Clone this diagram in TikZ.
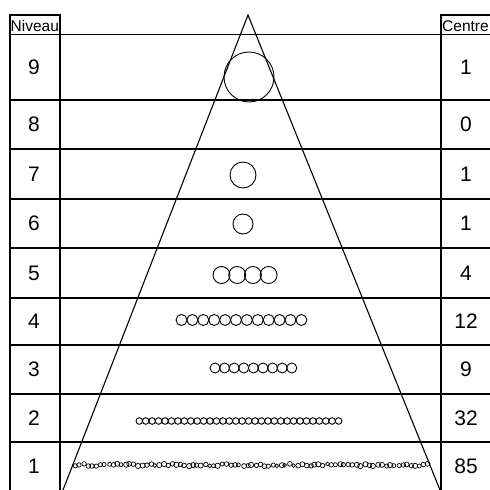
\documentclass[tikz,border=0pt]{standalone}
\usepackage{fontspec}
\setmainfont{Liberation Sans}
\tikzset{
  grid line/.style={line width=1.4pt},
  side line/.style={line width=1.1pt},
  level num/.style={font=\fontsize{21}{21}\selectfont, inner sep=0pt},
  head label/.style={font=\fontsize{15.5}{16}\selectfont, inner sep=0pt, anchor=base west},
  bead/.style={line width=0.9pt},
}
\begin{document}
\begin{tikzpicture}[x=1pt,y=-1pt]
\useasboundingbox (0,0) rectangle (490,490);
% table frame
\draw[grid line] (10,490) -- (10,15) -- (60,15) -- (60,490);
\draw[grid line] (441,490) -- (441,15) -- (490,15);
\foreach \y in {34.5,100,149,199,248,298,345,394,442}
  \draw[grid line] (10,\y) -- (490,\y);
\node[head label] (niveau) at (10.5,31.5) {Niveau};
\node[head label] (centre) at (442,31.5) {Centre};
% levels and counts
\foreach \lev/\cnt/\yc in {9/1/67, 8/0/124.5, 7/1/174, 6/1/223.5, 5/4/273,
    4/12/321.5, 3/9/369.5, 2/32/418, 1/85/466}{
  \node[level num] (niv-\lev) at (34,\yc) {\lev};
  \node[level num] (ctr-\lev) at (466,\yc) {\cnt};
}
% pyramid
\coordinate (apex) at (248,15);
\coordinate (baseL) at (63,490);
\coordinate (baseR) at (440,490);
\draw[side line] (baseL) -- (apex) -- (baseR);
% centres
\draw[bead] (249,77) circle[radius=25];
\draw[bead] (243,175) circle[radius=13];
\draw[bead] (243,224) circle[radius=10];
\foreach \i in {0,...,3}
  \draw[bead] ({221.5+15.7*\i},275) circle[radius=8.5];
\foreach \i in {0,...,11}
  \draw[bead] ({181.5+10.9*\i},320) circle[radius=5.5];
\foreach \i in {0,...,8}
  \draw[bead] ({215+9.6*\i},368) circle[radius=5];
\foreach \i in {0,...,31}
  \draw[bead] ({139.3+6.43*\i},421) circle[radius=3.3];
\pgfmathsetseed{3}
\foreach \i in {0,...,84}
  \draw[bead, line width=0.7pt] ({75.3+4.2*\i+rand*0.8},{465+rand*1.2}) circle[radius={2.3+0.4*rand}];
\end{tikzpicture}
\end{document}
